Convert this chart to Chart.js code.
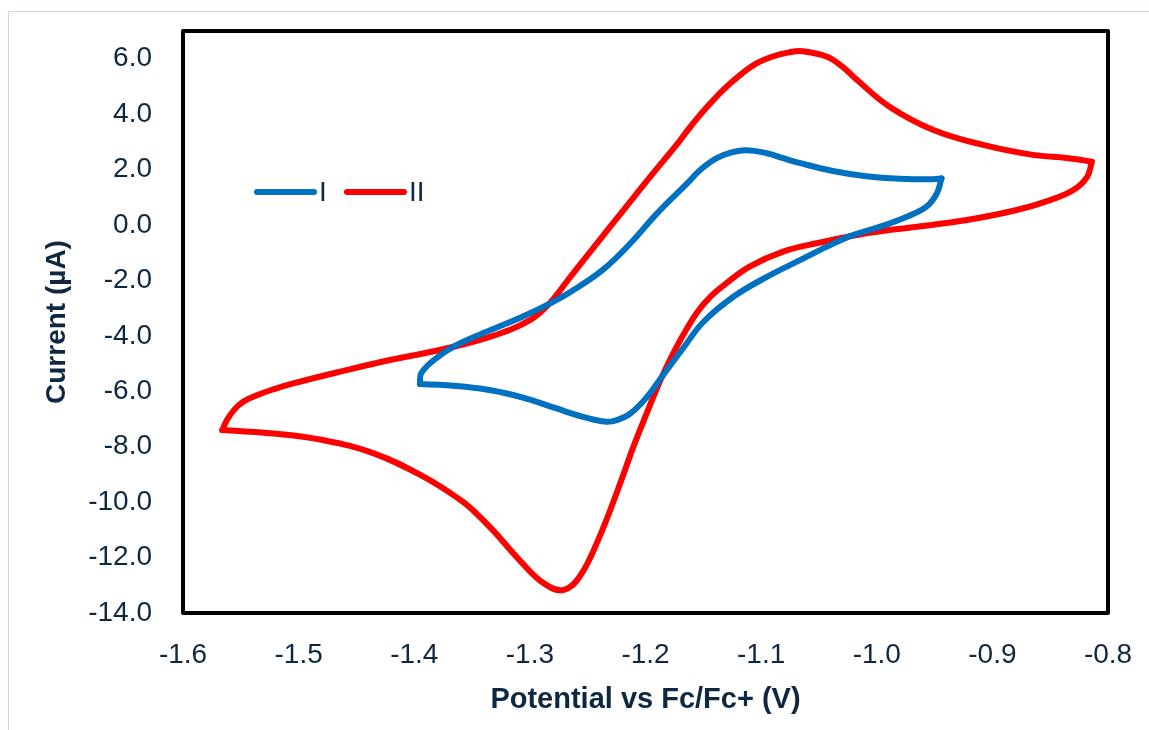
<!DOCTYPE html>
<html>
<head>
<meta charset="utf-8">
<title>Cyclic voltammograms I and II</title>
<script src="https://cdn.jsdelivr.net/npm/chart.js@4.4.1/dist/chart.umd.min.js"></script>
<style>
  html, body { margin: 0; padding: 0; background: #fff; }
  canvas { display: block; }
</style>
</head>
<body>
<canvas id="cvChart" width="1149" height="730"></canvas>
<script>
// Potential (V vs Fc/Fc+) and current (µA), split by scan direction
// so the switching vertices stay sharp.

// compound I, scan towards negative potential
const potI_neg = [-0.944, -0.948, -0.957, -0.974, -0.997, -1.023, -1.043, -1.066, -1.095, -1.124,
  -1.150, -1.167, -1.185, -1.199, -1.213, -1.224, -1.234, -1.254, -1.277, -1.300,
  -1.320, -1.343, -1.372, -1.395];
const curI_neg = [1.68, 1.14, 0.66, 0.30, -0.06, -0.40, -0.78, -1.26, -1.87, -2.59,
  -3.50, -4.42, -5.43, -6.22, -6.80, -7.03, -7.10, -6.92, -6.62, -6.30,
  -6.08, -5.90, -5.78, -5.74];

// compound I, scan back towards positive potential
const potI_pos = [-1.395, -1.394, -1.383, -1.366, -1.343, -1.314, -1.300, -1.282, -1.265, -1.237,
  -1.213, -1.190, -1.164, -1.155, -1.147, -1.138, -1.127, -1.113, -1.095, -1.081,
  -1.066, -1.038, -1.009, -0.980, -0.951, -0.944];
const curI_pos = [-5.74, -5.35, -4.87, -4.39, -3.95, -3.45, -3.18, -2.82, -2.42, -1.62,
  -0.66, 0.42, 1.50, 1.90, 2.18, 2.42, 2.60, 2.70, 2.59, 2.41,
  2.23, 1.95, 1.76, 1.67, 1.65, 1.68];

// compound II, scan towards negative potential
const potII_neg = [-0.814, -0.818, -0.830, -0.850, -0.879, -0.922, -0.965, -1.009, -1.052, -1.081,
  -1.110, -1.130, -1.144, -1.156, -1.173, -1.187, -1.199, -1.210, -1.224, -1.241,
  -1.257, -1.271, -1.288, -1.309, -1.332, -1.349, -1.360, -1.392, -1.435, -1.479,
  -1.522, -1.566];
const curII_neg = [2.28, 1.74, 1.26, 0.90, 0.54, 0.18, -0.06, -0.30, -0.66, -0.96,
  -1.50, -2.10, -2.59, -3.19, -4.39, -5.59, -6.80, -7.95, -9.56, -11.37,
  -12.69, -13.17, -12.93, -12.09, -11.01, -10.30, -9.92, -9.08, -8.24, -7.76,
  -7.52, -7.40];

// compound II, scan back towards positive potential
const potII_pos = [-1.566, -1.562, -1.556, -1.548, -1.536, -1.522, -1.507, -1.464, -1.421, -1.378,
  -1.334, -1.300, -1.282, -1.265, -1.242, -1.219, -1.196, -1.173, -1.162, -1.148,
  -1.133, -1.118, -1.104, -1.090, -1.076, -1.064, -1.043, -1.030, -1.017, -0.989,
  -0.951, -0.908, -0.865, -0.836, -0.822, -0.814];
const curII_pos = [-7.40, -7.04, -6.68, -6.38, -6.14, -5.93, -5.74, -5.29, -4.87, -4.51,
  -4.03, -3.43, -2.78, -1.87, -0.66, 0.54, 1.74, 2.90, 3.50, 4.20,
  4.87, 5.42, 5.83, 6.08, 6.23, 6.27, 6.07, 5.72, 5.23, 4.27,
  3.43, 2.89, 2.53, 2.42, 2.34, 2.28];

const potentialTicks = [-1.6, -1.5, -1.4, -1.3, -1.2, -1.1, -1.0, -0.9, -0.8];
const currentTicks = [-14, -12, -10, -8, -6, -4, -2, 0, 2, 4, 6];

const seriesNames = ['I', 'II'];
const seriesColors = ['#0070C0', '#FF0000'];

const textColor = '#0E2841';
const toPoints = (xs, ys) => xs.map((x, i) => ({ x: x, y: ys[i] }));

function scanSet(xs, ys, color) {
  return {
    data: toPoints(xs, ys),
    showLine: true,
    borderColor: color,
    backgroundColor: color,
    borderWidth: 6,
    borderCapStyle: 'round',
    borderJoinStyle: 'round',
    pointRadius: 0,
    tension: 0.4,
    fill: false
  };
}

// plot frame, outer page border and the legend inside the plot
const framePlugin = {
  id: 'frame',
  beforeDraw(chart) {
    const ctx = chart.ctx;
    ctx.save();
    ctx.strokeStyle = '#c3d6ef';
    ctx.lineWidth = 1;
    ctx.beginPath();
    ctx.moveTo(8.5, chart.height);
    ctx.lineTo(8.5, 11.5);
    ctx.lineTo(chart.width, 11.5);
    ctx.stroke();
    ctx.restore();
  },
  afterDatasetsDraw(chart) {
    const { ctx, chartArea: a } = chart;
    ctx.save();
    ctx.strokeStyle = '#000';
    ctx.lineWidth = 4;
    ctx.lineJoin = 'round';
    ctx.strokeRect(a.left, a.top, a.right - a.left, a.bottom - a.top);

    const ly = a.top + 161;
    const starts = [74, 164];
    ctx.lineCap = 'round';
    ctx.lineWidth = 6;
    ctx.font = '28px "Liberation Sans", Arial, sans-serif';
    ctx.textBaseline = 'middle';
    ctx.textAlign = 'left';
    seriesNames.forEach((name, i) => {
      const x0 = a.left + starts[i];
      ctx.strokeStyle = seriesColors[i];
      ctx.beginPath();
      ctx.moveTo(x0, ly);
      ctx.lineTo(x0 + 57, ly);
      ctx.stroke();
      ctx.fillStyle = textColor;
      ctx.fillText(name, x0 + 62, ly + 1);
    });
    ctx.restore();
  }
};

const tickFont = { family: '"Liberation Sans", Arial, sans-serif', size: 28 };

new Chart(document.getElementById('cvChart'), {
  type: 'scatter',
  data: {
    datasets: [
      scanSet(potI_neg, curI_neg, seriesColors[0]),
      scanSet(potI_pos, curI_pos, seriesColors[0]),
      scanSet(potII_neg, curII_neg, seriesColors[1]),
      scanSet(potII_pos, curII_pos, seriesColors[1])
    ]
  },
  options: {
    responsive: false,
    animation: false,
    devicePixelRatio: 1,
    layout: { padding: { left: 0, top: 31, right: 41, bottom: 0 } },
    plugins: {
      legend: { display: false },
      tooltip: { enabled: false }
    },
    scales: {
      x: {
        type: 'linear',
        position: 'bottom',
        min: -1.6,
        max: -0.8,
        grid: { display: false, drawTicks: false },
        border: { display: false },
        afterBuildTicks: (s) => { s.ticks = potentialTicks.map(v => ({ value: v })); },
        afterFit: (s) => {
          s.height = 117;
          s.paddingLeft = 0; s.paddingRight = 0;
        },
        ticks: {
          font: tickFont,
          color: textColor,
          padding: 25,
          maxRotation: 0,
          autoSkip: false,
          callback: (v) => v.toFixed(1)
        },
        title: {
          display: true,
          text: 'Potential vs Fc/Fc+ (V)',
          font: { family: '"Liberation Sans", Arial, sans-serif', size: 29, weight: 'bold' },
          color: textColor,
          padding: { top: 0, bottom: 13 }
        }
      },
      y: {
        type: 'linear',
        position: 'left',
        min: -14,
        max: 7,
        grid: { display: false, drawTicks: false },
        border: { display: false },
        afterBuildTicks: (s) => { s.ticks = currentTicks.map(v => ({ value: v })); },
        afterFit: (s) => {
          s.width = 183;
          s.paddingTop = 0; s.paddingBottom = 0;
        },
        ticks: {
          font: tickFont,
          color: textColor,
          padding: 31,
          autoSkip: false,
          callback: (v) => v.toFixed(1)
        },
        title: {
          display: true,
          text: 'Current (µA)',
          font: { family: '"Liberation Sans", Arial, sans-serif', size: 28, weight: 'bold' },
          color: textColor,
          padding: { top: 40, bottom: 0 }
        }
      }
    }
  },
  plugins: [framePlugin]
});
</script>
</body>
</html>
